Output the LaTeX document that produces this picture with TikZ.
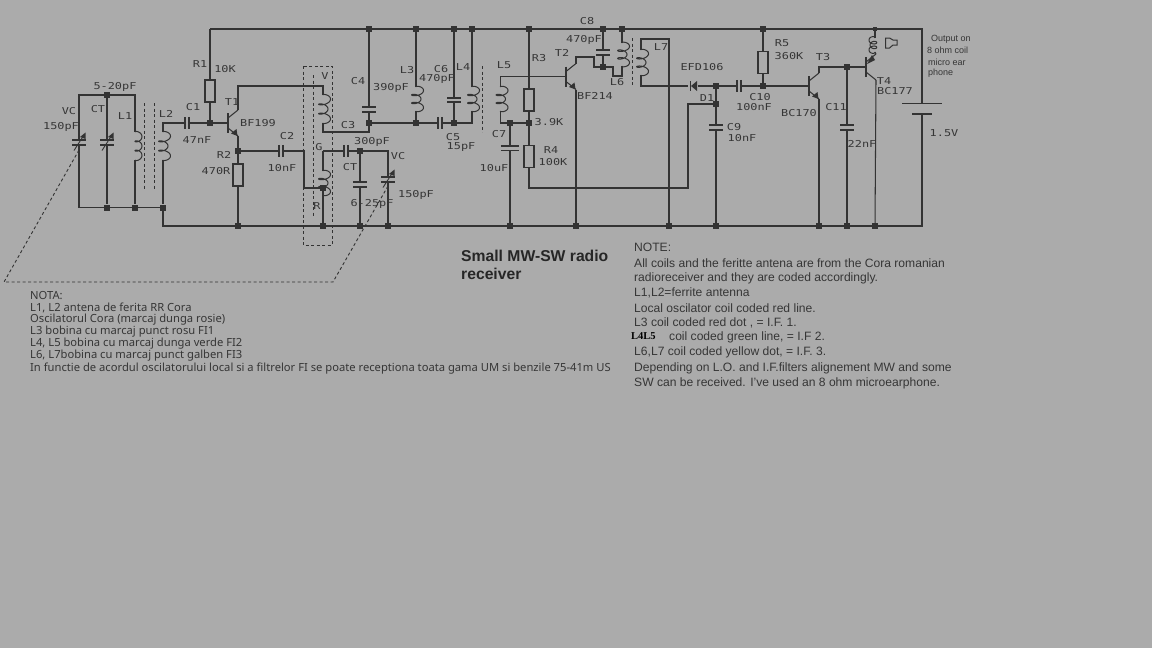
\documentclass[tikz,border=0pt]{standalone}
\usepackage{fontspec}
\setmainfont{Liberation Sans}
\newfontfamily\lab[FakeStretch=1.25]{DejaVu Sans Mono}
\newfontfamily\notafont{Noto Sans}
\newfontfamily\serfont{Liberation Serif}
\definecolor{bgc}{HTML}{ABABAB}
\definecolor{ink}{HTML}{333333}
\definecolor{txt}{HTML}{363636}
\newcounter{lc}
\tikzset{
 wire/.style={draw=ink,line width=1.05pt},
 plate/.style={draw=ink,line width=2pt},
 dot/.style={rectangle,fill=ink,inner sep=0pt,minimum size=6pt},
 resbox/.style={rectangle,draw=ink,line width=1.05pt,fill=bgc,inner sep=0pt,minimum width=10pt,minimum height=22pt},
 dashl/.style={draw=ink,line width=0.9pt,dash pattern=on 3pt off 2.5pt},
 lbl/.style={inner sep=0pt,text=txt,font=\lab\fontsize{9.5}{10}\selectfont},
 lft/.style={inner sep=0pt,anchor=west,text=txt},
}
\newcommand\lb[3]{\stepcounter{lc}\node[lbl] (lab\arabic{lc}) at (#1,#2) {#3};}
% junction
\newcommand\J[3]{\node[dot] (#1) at (#2,#3) {};}
% coil: name x y1 y2 dir width kick
\newcommand\coilv[7]{%
 \coordinate (#1t) at (#2,#3);\coordinate (#1b) at (#2,#4);
 \draw[wire,line width=1pt] plot[smooth,domain=0:3,samples=61,variable=\t]
  ({#2+#5*(#6*(1-cos(360*\t))/2-#7*sin(60*\t))},{#3+(#4-#3)*\t/3-2.4*sin(360*\t)});}
% cap with horizontal plates, wire vertical
\newcommand\capflat[3]{%
 \node[inner sep=0pt,minimum width=13pt,minimum height=4pt] (#1) at (#2,#3) {};
 \draw[plate] (#1.north west)--(#1.north east);
 \draw[plate] (#1.south west)--(#1.south east);}
% cap with vertical plates, wire horizontal
\newcommand\capupr[3]{%
 \node[inner sep=0pt,minimum width=4pt,minimum height=12pt] (#1) at (#2,#3) {};
 \draw[plate] (#1.north west)--(#1.south west);
 \draw[plate] (#1.north east)--(#1.south east);}
% variable arrow over a flat cap
\newcommand\varr[2]{%
 \draw[ink,line width=0.9pt] (#1-5,#2+8)--(#1+4,#2-6);
 \fill[ink] (#1+6.5,#2-10)--(#1+6.5,#2-3.5)--(#1+1,#2-5.5)--cycle;}
% transistor: name x ymid
\newcommand\tran[3]{%
 \coordinate (#1u) at (#2+10,#3-13);\coordinate (#1d) at (#2+10,#3+13);
 \coordinate (#1b) at (#2,#3);
 \draw[ink,line width=2.4pt] (#2,#3-10)--(#2,#3+10);
 \draw[wire] (#2,#3-5)--(#1u);\draw[wire] (#2,#3+5)--(#1d);}
\newcommand\ahd[2]{\fill[ink] (#1+9.5,#2+13)--(#1+3,#2+10.5)--(#1+8.5,#2+6)--cycle;}
\begin{document}
\begin{tikzpicture}[x=1pt,y=-1pt]
\useasboundingbox (0,0) rectangle (1152,648);
\fill[bgc] (0,0) rectangle (1152,648);
% corners
\coordinate (tl) at (210,29); \coordinate (tr) at (922,29);
\coordinate (brl) at (163,226); \coordinate (brr) at (922,226);
% junctions
\J{aT}{107}{95}\J{aB}{107}{207.5}\J{aL1}{135}{207.5}\J{aL2}{163}{207.5}
\coordinate (vcT) at (79,95);\coordinate (vcB) at (79,207.5);\coordinate (l1T) at (135,95);
\J{b1}{210}{123}\J{e1}{238}{151}
\J{r238}{238}{226}\J{r323}{323}{226}\J{r360}{360}{226}\J{r388}{388}{226}\J{r510}{510}{226}\J{r576}{576}{226}\J{r669}{669}{226}\J{r716}{716}{226}\J{r819}{819}{226}\J{r847}{847}{226}\J{r875}{875}{226}
\J{t369}{369}{29}\J{t416}{416}{29}\J{t454}{454}{29}\J{t472}{472}{29}\J{t529}{529}{29}\J{t603}{603}{29}\J{t622}{622}{29}\J{t763}{763}{29}
\node[dot,minimum size=3.5pt] (t875) at (875,29) {};
\J{m369}{369}{123}\J{m416}{416}{123}\J{m454}{454}{123}\coordinate (m472) at (472,123);
\J{m510}{510}{123}\J{m529}{529}{123}
\J{g323}{323}{188}\J{g360}{360}{151}\coordinate (g388) at (388,151);
\J{c603}{603}{67}
\J{d716}{716}{86}\J{d716b}{716}{104}\J{d763}{763}{86}\J{c847}{847}{67}
% components
\capflat{cVC}{79}{142.5}\capflat{cCT}{107}{142.5}
\varr{79}{142.5}\varr{107}{142.5}
\coilv{L1}{135}{132}{160}{1}{7}{0}
\coilv{L2}{163}{132}{160}{1}{10}{5}
\capupr{C1}{187}{123}\capupr{C2}{281}{151}
\node[resbox] (R1) at (210,91) {};
\node[resbox] (R2) at (238,175) {};
\tran{T1}{228}{123}\ahd{228}{123}
\coilv{cV}{323}{95}{123}{1}{10}{5}
\coilv{cG}{323}{171}{195}{1}{10}{5}
\capupr{C3a}{346}{151}
\capflat{C4}{369}{109.5}
\coilv{L3}{416}{87}{111}{1}{10}{5}
\capupr{C5}{440}{123}
\capflat{C6}{454}{100}
\coilv{L4}{472}{87}{111}{1}{10}{5}
\coilv{L5}{500.5}{87}{111}{1}{10}{5}
\capflat{CT2}{360}{184.5}
\capflat{VC2}{388}{179.5}\varr{388}{179.5}
\node[resbox] (R3) at (529,100) {};
\node[resbox] (R4) at (529,156.5) {};
\node[inner sep=0pt,minimum width=18pt,minimum height=4pt] (C7) at (510,148) {};
\draw[ink,line width=1.8pt] (C7.north west)--(C7.north east);
\draw[ink,line width=1.2pt] (C7.south west)--(C7.south east);
\tran{T2}{566}{76.5}\ahd{566}{76.5}
\capflat{C8}{603}{52.5}
\coilv{L6}{622}{43}{66}{1}{10}{5}
\coilv{L7}{641}{50}{75}{1}{10}{5}
\node[inner sep=0pt,minimum size=9pt] (D1) at (693,86) {};
\capupr{C10}{739}{86}
\capflat{C9}{716}{127.5}
\node[resbox] (R5) at (763,62.5) {};
\tran{T3}{809}{86}\ahd{809}{86}
\capflat{C11}{847}{127.5}
\tran{T4}{866}{67}
\coilv{LS}{875}{38}{52}{-1}{7}{2}
\node[inner sep=0pt,minimum width=39pt,minimum height=10pt] (B) at (922,109) {};
% wires
\draw[wire] (tl)--(tr)--(B.north);
\draw[wire] (B.south)--(brr)--(brl)--(aL2);
\draw[wire] (aT)--(vcT)--(cVC)--(vcB)--(aB)--(aL1)--(aL2);
\draw[wire] (aT)--(l1T)--(L1t);
\draw[wire] (L1b)--(aL1);
\draw[wire] (aT)--(cCT)--(aB);
\draw[wire] (L2b)--(aL2);
\draw[wire] (L2t)--(163,123)--(C1)--(b1)--(T1b);
\draw[wire] (tl)--(R1)--(b1);
\draw[wire] (T1u)--(238,86)--(323,86)--(cVt);
\draw[wire] (T1d)--(e1)--(R2)--(r238);
\draw[wire] (e1)--(C2)--(304,151)--(304,188)--(g323);
\draw[wire] (cVb)--(323,132)--(369,132)--(m369);
\draw[wire] (t369)--(C4)--(m369);
\draw[wire] (m369)--(m416)--(C5)--(m454)--(m472)--(L4b);
\draw[wire] (t416)--(L3t);\draw[wire] (L3b)--(m416);
\draw[wire] (t454)--(C6)--(m454);
\draw[wire] (t472)--(L4t);
\draw[wire] (323,151)--(C3a)--(g360)--(g388)--(VC2)--(r388);
\draw[wire] (323,151)--(cGt);\draw[wire] (cGb)--(g323)--(r323);
\draw[wire] (g360)--(CT2)--(r360);
\draw[wire] (T2b)--(500.5,76.5)--(L5t);
\draw[wire] (L5b)--(500.5,123)--(m510)--(m529);
\draw[wire] (m510)--(C7)--(r510);
\draw[wire] (t529)--(R3)--(m529)--(R4)--(529,188)--(688,188)--(688,104)--(d716b);
\draw[wire] (T2u)--(576,57)--(594,57)--(594,67)--(c603);
\draw[wire] (T2d)--(r576);
\draw[wire] (t603)--(C8)--(c603);
\draw[wire] (c603)--(613,67)--(613,76)--(622,76)--(L6b);
\draw[wire] (t622)--(L6t);
\draw[wire] (L7t)--(641,39)--(669,39)--(r669);
\draw[wire] (L7b)--(641,86)--(D1)--(d716)--(C10)--(d763)--(T3b);
\draw[wire] (d716)--(d716b)--(C9)--(r716);
\draw[wire] (t763)--(R5)--(d763);
\draw[wire] (T3u)--(819,67)--(c847)--(T4b);
\draw[wire] (T3d)--(r819);
\draw[wire] (c847)--(C11)--(r847);
\draw[wire] (T4d)--(r875);
\draw[wire] (T4u)--(LSb);\draw[wire] (LSt)--(t875);
\fill[ink] (867,64)--(872,55)--(875,60)--cycle;
% diode
\draw[ink,line width=1.8pt] (690.5,81)--(690.5,91);
\fill[ink] (691,86)--(697,81)--(697,91)--cycle;
% battery
\draw[ink,line width=1.1pt] (B.north west)--(B.north east);
\draw[ink,line width=2.4pt] (912,114)--(932,114);
% earphone
\draw[ink,line width=1pt] (885.5,38)--(889.5,38)--(893,40)--(897,40)--(897,45)--(893,45)--(889.5,48)--(885.5,48)--cycle;
% ferrites and dashed parts
\draw[dashl] (144.5,103)--(144.5,190);\draw[dashl] (154.5,103)--(154.5,190);
\draw[dashl] (482,66)--(482,132);\draw[dashl] (632,38)--(632,85);
\draw[dashl] (303,66) rectangle (332,245);
\draw[dashl] (313,75)--(313,217);
\draw[dashl] (79,150)--(4,282)--(333,282)--(388,186);
% labels
\lb{69}{111}{VC}\lb{61}{127}{150pF}\lb{115}{87}{5-20pF}\lb{98}{109}{CT}\lb{125}{116}{L1}\lb{166}{114}{L2}
\lb{193}{107}{C1}\lb{197}{140}{47nF}\lb{200}{64}{R1}\lb{225}{69}{10K}\lb{232}{102}{T1}\lb{258}{123}{BF199}
\lb{287}{136}{C2}\lb{282}{168}{10nF}\lb{224}{155}{R2}\lb{216}{171}{470R}\lb{325}{76}{V}\lb{319}{147}{G}\lb{317}{206}{R}
\lb{358}{81}{C4}\lb{348}{125}{C3}\lb{391}{88}{390pF}\lb{407}{70}{L3}\lb{441}{69}{C6}\lb{437}{79}{470pF}\lb{463}{67}{L4}
\lb{504}{65}{L5}\lb{539}{58}{R3}\lb{562}{53}{T2}\lb{453}{137}{C5}\lb{461}{147}{15pF}\lb{372}{142}{300pF}\lb{398}{156}{VC}
\lb{350}{167}{CT}\lb{416}{195}{150pF}\lb{372}{204}{6-25pF}\lb{499}{134}{C7}\lb{494}{168}{10uF}\lb{549}{122}{3.9K}
\lb{551}{150}{R4}\lb{553}{162}{100K}\lb{595}{96}{BF214}\lb{584}{40}{470pF}\lb{587}{21.5}{C8}
\lb{661}{47}{L7}\lb{617}{82}{L6}\lb{702}{67}{EFD106}\lb{707}{98}{D1}\lb{760}{97}{C10}\lb{754}{107}{100nF}
\lb{734}{127}{C9}\lb{742}{138}{10nF}\lb{782}{43}{R5}\lb{789}{56}{360K}\lb{823}{57}{T3}\lb{799}{113}{BC170}
\lb{836}{107}{C11}\lb{862}{144}{22nF}\lb{884}{81}{T4}\lb{895}{91}{BC177}\lb{944}{133}{1.5V}
% output
\node[lft,font=\fontsize{9}{10}\selectfont] (o1) at (931,39) {Output on};
\node[lft,font=\fontsize{9}{10}\selectfont] (o2) at (927,50) {8 ohm coil};
\node[lft,font=\fontsize{9}{10}\selectfont] (o3) at (928,62) {micro ear};
\node[lft,font=\fontsize{9}{10}\selectfont] (o4) at (928,73) {phone};
% title
\node[lft,font=\bfseries\fontsize{15.7}{18}\selectfont,text=black!85] (tt1) at (461,256) {Small MW-SW radio};
\node[lft,font=\bfseries\fontsize{15.7}{18}\selectfont,text=black!85] (tt2) at (461,274) {receiver};
% English note
\foreach \n/\yy/\s in {a/247/NOTE:,b/263/All coils and the feritte antena are from the Cora romanian,c/278/radioreceiver and they are coded accordingly.,d/293/{L1,L2=ferrite antenna},e/308/Local oscilator coil coded red line.,f/323/{L3 coil coded red dot , = I.F. 1.},h/352/{L6,L7 coil coded yellow dot, = I.F. 3.},i/368/Depending on L.O. and I.F.filters alignement MW and some,j/383/SW can be received. I've used an 8 ohm microearphone.}
 {\node[lft,font=\fontsize{12.1}{14}\selectfont] (ne\n) at (634,\yy) {\s};}
\node[lft,font=\serfont\bfseries\fontsize{10.5}{11}\selectfont,text=black] (ng1) at (631,336.5) {L4L5};
\node[lft,font=\fontsize{12.1}{14}\selectfont] (ng2) at (669,337) {coil coded green line, = I.F 2.};
% Romanian note
\foreach \n/\yy/\s in {a/296/NOTA:,b/308/{L1, L2 antena de ferita RR Cora},c/320/Oscilatorul Cora (marcaj dunga rosie),d/332/L3 bobina cu marcaj punct rosu FI1,e/344/{L4, L5 bobina cu marcaj dunga verde FI2},f/356/{L6, L7bobina cu marcaj punct galben FI3},g/369/In functie de acordul oscilatorului local si a filtrelor FI se poate receptiona toata gama UM si benzile 75-41m US}
 {\node[lft,font=\notafont\fontsize{11.2}{12}\selectfont] (na\n) at (30,\yy) {\s};}
\end{tikzpicture}
\end{document}
